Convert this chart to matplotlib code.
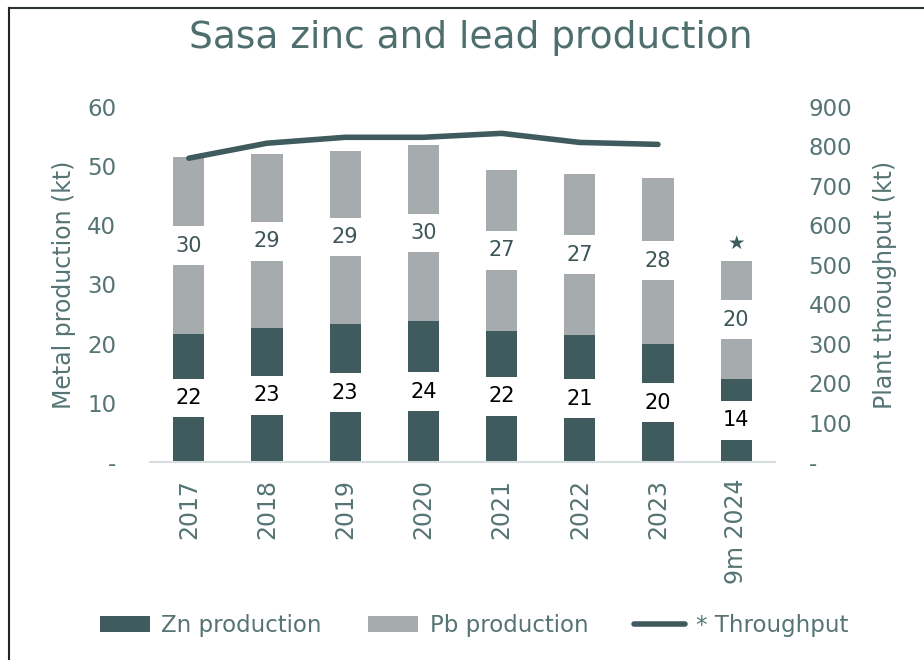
import matplotlib
matplotlib.use("Agg")
import matplotlib.pyplot as plt
from matplotlib.lines import Line2D
from matplotlib.patches import Patch
import numpy as np

categories = ["2017", "2018", "2019", "2020", "2021", "2022", "2023", "9m 2024"]
zn = [21.6, 22.6, 23.4, 23.8, 22.2, 21.4, 20.0, 14.1]
pb = [29.9, 29.4, 29.2, 29.8, 27.2, 27.3, 28.0, 19.9]
throughput = [770, 808, 823, 823, 833, 810, 805]
left_ticks = [0, 10, 20, 30, 40, 50, 60]
right_ticks = [0, 100, 200, 300, 400, 500, 600, 700, 800, 900]

DARK = "#3f5b5e"
LIGHT = "#a6acad"
TXT = "#557473"

plt.rcParams["font.family"] = ["DejaVu Sans"]

fig = plt.figure(figsize=(9.24, 6.6), dpi=100)
ax = fig.add_axes([0.162, 0.30, 0.677, 0.538])
ax2 = ax.twinx()

x = np.arange(len(categories))
w = 0.40
ax.bar(x, zn, width=w, color=DARK, zorder=2)
ax.bar(x, pb, width=w, bottom=zn, color=LIGHT, zorder=2)

for i in range(len(categories)):
    ax.text(x[i], zn[i] / 2, f"{round(zn[i]):d}", ha="center", va="center",
            fontsize=15, color="black", zorder=5,
            bbox=dict(boxstyle="square,pad=0.45", facecolor="white", edgecolor="none"))
    ax.text(x[i], zn[i] + pb[i] / 2, f"{round(pb[i]):d}", ha="center", va="center",
            fontsize=15, color="#3d5658", zorder=5,
            bbox=dict(boxstyle="square,pad=0.45", facecolor="white", edgecolor="none"))

ax.text(x[-1], zn[-1] + pb[-1] + 3.0, "\u2605", ha="center", va="center",
        fontsize=14, color=DARK, zorder=5)

ax2.plot(x[:len(throughput)], throughput, color=DARK, linewidth=4,
         solid_capstyle="round", zorder=3)

ax.set_xlim(-0.5, len(categories) - 0.5)
ax.set_ylim(0, 60)
ax2.set_ylim(0, 900)

ax.set_yticks(left_ticks)
ax.set_yticklabels(["-" if v == 0 else str(v) for v in left_ticks])
ax2.set_yticks(right_ticks)
ax2.set_yticklabels(["-" if v == 0 else str(v) for v in right_ticks])

ax.set_xticks(x)
ax.set_xticklabels(categories, rotation=90)

for a in (ax, ax2):
    for s in a.spines.values():
        s.set_visible(False)
    a.tick_params(length=0, labelsize=16.5, colors=TXT)
ax.spines["bottom"].set_visible(True)
ax.spines["bottom"].set_color("#d5dfdf")
ax.spines["bottom"].set_linewidth(1.5)
ax.tick_params(axis="y", pad=24)
ax2.tick_params(axis="y", pad=24)
ax.tick_params(axis="x", pad=12, labelsize=17)

ax.set_ylabel("Metal production (kt)", fontsize=17, color=TXT, labelpad=8)
ax2.set_ylabel("Plant throughput (kt)", fontsize=17, color=TXT, labelpad=15)
for lab in ax2.get_yticklabels():
    lab.set_horizontalalignment("left")
for lab in ax.get_yticklabels():
    lab.set_horizontalalignment("right")

fig.text(0.51, 0.943, "Sasa zinc and lead production", ha="center", va="center",
         fontsize=27, color="#4f6f6f")

handles = [Patch(facecolor=DARK, edgecolor="none"),
           Patch(facecolor=LIGHT, edgecolor="none"),
           Line2D([0], [0], color=DARK, linewidth=4, solid_capstyle="round")]
labels = ["Zn production", "Pb production", "* Throughput"]
fig.legend(handles, labels, loc="center", bbox_to_anchor=(0.513, 0.052), ncol=3,
           frameon=False, fontsize=16.5, labelcolor=TXT, handlelength=2.2,
           handleheight=0.7, columnspacing=2.0, handletextpad=0.5)

fig.add_artist(Line2D([9 / 924, 1], [1 - 8 / 660, 1 - 8 / 660], color="#2b3535",
                      linewidth=1.5, transform=fig.transFigure))
fig.add_artist(Line2D([9 / 924, 9 / 924], [0, 1 - 8 / 660], color="#1e2626",
                      linewidth=1.5, transform=fig.transFigure))

fig.savefig("out.png", dpi=100)
